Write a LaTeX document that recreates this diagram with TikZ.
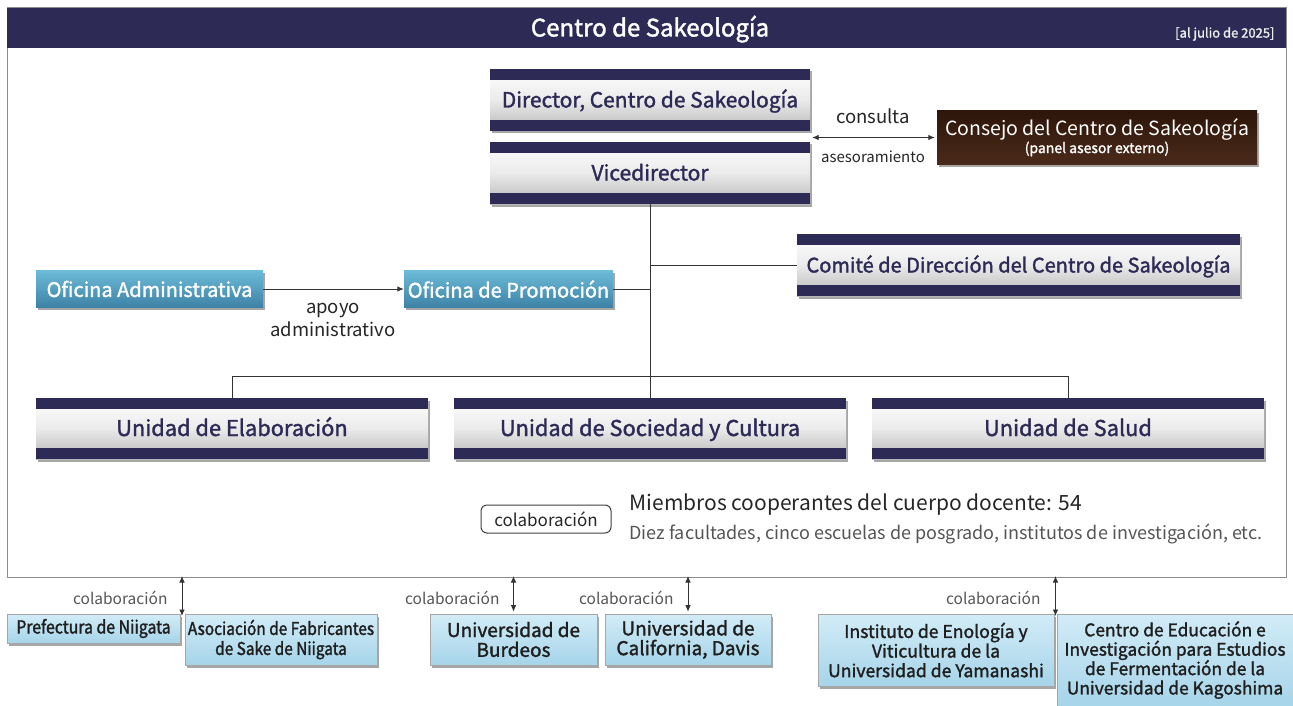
\documentclass[tikz,border=0pt]{standalone}
\usepackage{fontspec}
\setmainfont{Noto Sans CJK JP}
\newfontfamily\med{Noto Sans CJK JP}[FakeBold=1.6]
\newfontfamily\cond{Noto Sans CJK JP}[FakeBold=1.6,FakeStretch=0.88]
\usetikzlibrary{arrows.meta,shadows,calc}
\definecolor{navy}{HTML}{2D2A56}
\definecolor{brownA}{HTML}{2E160A}
\definecolor{brownB}{HTML}{4A2A1A}
\definecolor{blueA}{HTML}{6DBBD8}
\definecolor{blueB}{HTML}{3D82A6}
\definecolor{lblueA}{HTML}{D2ECF7}
\definecolor{lblueB}{HTML}{A6D4E9}
\definecolor{txtgray}{HTML}{555555}
\newcommand{\fs}[1]{\fontsize{#1}{\fpeval{#1*1.2}}\selectfont}
\begin{document}
\begin{tikzpicture}[x=1pt,y=-1pt,
  shad/.style={drop shadow={shadow xshift=2pt,shadow yshift=-2.5pt,fill=black,opacity=0.35}},
  navybox/.style={shad,minimum height=62,inner sep=0pt,text=navy,text height=15.5pt,text depth=0.5pt,
     font=\med\fs{20},top color=white,bottom color=black!28,middle color=white!92!black},
  bluebox/.style={shad,minimum height=37,inner sep=0pt,text=white,font=\med\fs{20},
     top color=blueA,bottom color=blueB},
  lbox/.style={shad,inner sep=0pt,text=black!88,font=\med\fs{17},align=center,
     top color=lblueA,bottom color=lblueB,draw=black!35,line width=0.6pt},
  conn/.style={draw=black!80,line width=0.9pt},
  arr/.style={conn,{Latex[length=6.5pt,width=5.5pt]}-{Latex[length=6.5pt,width=5.5pt]}},
  collab/.style={text=txtgray,font=\fs{15.5},anchor=east}
]
\useasboundingbox (0,0) rectangle (1293,706);
\fill[white] (0,0) rectangle (1293,706);
% frame
\draw[black!45,line width=1pt] (7,8) rectangle (1286,577);
\fill[navy] (7,8) rectangle (1286,48);
\node[text=white,font=\med\fs{24}] (title) at (650,29) {Centro de Sakeología};
\node[text=white!92!black,font=\med\fs{13},anchor=east] (date) at (1278,34) {[al julio de 2025]};
\coordinate (fb) at (0,577);

% navy boxes
\node[navybox,minimum width=320,font=\med\fs{21}] (dir) at (650,100) {Director, Centro de Sakeología};
\node[navybox,minimum width=320,font=\med\fs{21}] (vice) at (650,173) {Vicedirector};
\node[navybox,minimum width=443] (com) at (1018.5,265) {Comité de Dirección del Centro de Sakeología};
\node[navybox,minimum width=392,minimum height=61,font=\med\fs{21.8}] (u1) at (232,428.5) {Unidad de Elaboración};
\node[navybox,minimum width=392,minimum height=61,font=\med\fs{21.8}] (u2) at (650,428.5) {Unidad de Sociedad y Cultura};
\node[navybox,minimum width=392,minimum height=61,font=\med\fs{21.8}] (u3) at (1068,428.5) {Unidad de Salud};
\foreach \n in {dir,vice,com,u1,u2,u3}{
  \fill[navy] (\n.north west) rectangle ([yshift=-11.5pt]\n.north east);
  \fill[navy] (\n.south west) rectangle ([yshift=11.5pt]\n.south east);
}

% consejo
\node[shad,minimum width=320,minimum height=53,inner sep=0pt,top color=brownA,bottom color=brownB,
  text=white,align=center] (cons) at (1097,137.5)
  {{\fs{19.5}Consejo del Centro de Sakeología}\\[0pt]{\med\fs{14}(panel asesor externo)}};
\draw[arr] ([xshift=-2pt]cons.west) -- ([xshift=2pt]cons.west -| dir.east);
\node[font=\fs{18.5},text=black!85] (cl1) at (873,116) {consulta};
\node[font=\fs{15},text=black!85] (cl2) at (873,157) {asesoramiento};

% blue boxes
\node[bluebox,minimum width=227] (adm) at (149.5,289) {Oficina Administrativa};
\node[bluebox,minimum width=209] (prom) at (508.5,289) {Oficina de Promoción};
\draw[conn,-{Latex[length=6.5pt,width=5.5pt]}] (adm.east) -- (prom.west);
\node[font=\fs{18.5},text=black!85,align=center] (apoyo) at (333,320) {apoyo\\[0pt]administrativo};

% connectors
\coordinate (bus) at (650,376);
\draw[conn] (vice.south) -- (bus);
\draw[conn] (vice.south |- com.west) -- (com.west);
\draw[conn] (prom.east) -- (prom.east -| vice.south);
\draw[conn] (u1.north) -- (u1.north |- bus) -- (u3.north |- bus) -- (u3.north);
\draw[conn] (u2.north |- bus) -- (u2.north);

% collaboration note
\node[draw=black!75,line width=1pt,rounded corners=6pt,minimum width=130,minimum height=28,inner sep=0pt,
  font=\fs{17},text=black!85] (colab) at (546,519) {colaboración};
\node[anchor=west,font=\fs{21},text=black!85] (miem) at (626,505) {Miembros cooperantes del cuerpo docente: 54};
\node[anchor=west,font=\fs{18},text=txtgray] (diez) at (626,534) {Diez facultades, cinco escuelas de posgrado, institutos de investigación, etc.};

% bottom boxes
\node[lbox,minimum width=173,minimum height=29,font=\cond\fs{18}] (pref) at (93.5,628.5) {Prefectura de Niigata};
\node[lbox,minimum width=192,minimum height=51,font=\cond\fs{17.5}] (asoc) at (281,639.5) {Asociación de Fabricantes\\[-1pt]de Sake de Niigata};
\node[lbox,minimum width=167,minimum height=51,font=\med\fs{19}] (bur) at (513.5,639.5) {Universidad de\\[-3pt]Burdeos};
\node[lbox,minimum width=166,minimum height=51,font=\med\fs{19}] (dav) at (688,639.5) {Universidad de\\[-3pt]California, Davis};
\node[lbox,minimum width=236,minimum height=72,font=\med\fs{17.6}] (inst) at (936,650) {Instituto de Enología y\\[-1.5pt]Viticultura de la\\[-1.5pt]Universidad de Yamanashi};
\node[lbox,minimum width=236,minimum height=92,font=\med\fs{17.4}] (kago) at (1175,660) {Centro de Educación e\\[-1.5pt]Investigación para Estudios\\[-1.5pt]de Fermentación de la\\[-1.5pt]Universidad de Kagoshima};

\coordinate (a1) at (182,614);
\coordinate (a4) at (1055.5,614);
\draw[arr] ([yshift=1pt]a1 |- fb) -- ([yshift=-2pt]a1);
\draw[arr] ([yshift=1pt]bur.north |- fb) -- ([yshift=2pt]bur.north);
\draw[arr] ([yshift=1pt]dav.north |- fb) -- ([yshift=2pt]dav.north);
\draw[arr] ([yshift=1pt]a4 |- fb) -- ([yshift=-2pt]a4);
\node[collab] (c1) at (171,598) {colaboración};
\node[collab] (c2) at (503,598) {colaboración};
\node[collab] (c3) at (677,598) {colaboración};
\node[collab] (c4) at (1044,598) {colaboración};
\end{tikzpicture}
\end{document}
